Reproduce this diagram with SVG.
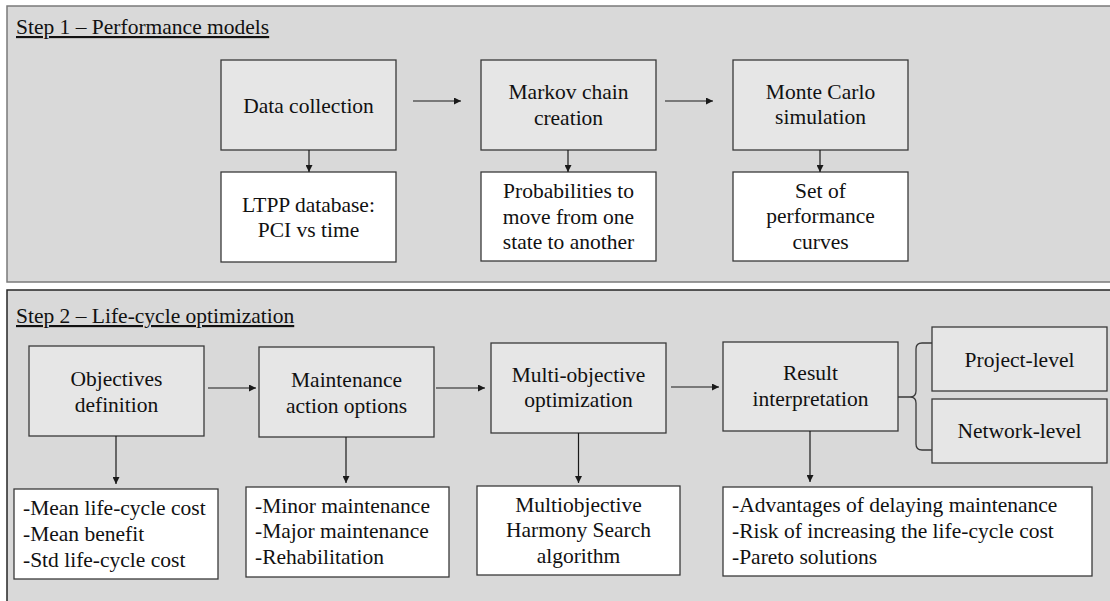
<svg xmlns="http://www.w3.org/2000/svg" width="1110" height="601" viewBox="0 0 1110 601">
<defs>
<marker id="ah" viewBox="0 0 10 10" refX="10" refY="5" markerWidth="7" markerHeight="7" markerUnits="userSpaceOnUse" orient="auto">
<path d="M0,0 L10,5 L0,10 z" fill="#1a1a1a"/>
</marker>
<style>
text{font-family:'Liberation Serif','Times New Roman',Times,'DejaVu Serif',serif;font-size:21.5px;fill:#111}
.c{text-anchor:middle}
.title{text-decoration:underline}
.node{fill:#e6e6e6;stroke:#3a3a3a;stroke-width:1.3}
.sub{fill:#ffffff;stroke:#3a3a3a;stroke-width:1.3}
.conn line{stroke:#1a1a1a;stroke-width:1.2;marker-end:url(#ah)}
.brace{fill:none;stroke:#3a3a3a;stroke-width:1.3}
</style>
</defs>
<rect x="0" y="0" width="1110" height="601" fill="#ffffff"/>
<g font-family="Liberation Serif, Times New Roman, serif">
<g id="step1">
<rect x="7" y="6" width="1110" height="276" fill="#d9d9d9" stroke="#7a7a7a" stroke-width="1.5"/>
<text x="16" y="34" class="title" font-family="Liberation Serif">Step 1 – Performance models</text>
</g>
<g id="step2">
<rect x="7" y="290" width="1110" height="330" fill="#d9d9d9" stroke="#262626" stroke-width="1.5"/>
<text x="16" y="323" class="title">Step 2 – Life-cycle optimization</text>
</g>
<g id="data-collection">
<rect class="node" x="221" y="60" width="175" height="90"/>
<text class="c" x="308.5" y="113">Data collection</text>
</g>
<g id="ltpp">
<rect class="sub" x="221" y="172" width="175" height="90"/>
<text class="c" x="308.5" y="212">LTPP database:</text>
<text class="c" x="308.5" y="237">PCI vs time</text>
</g>
<g id="markov">
<rect class="node" x="481" y="60" width="175" height="90"/>
<text class="c" x="568.5" y="99">Markov chain</text>
<text class="c" x="568.5" y="125">creation</text>
</g>
<g id="probabilities">
<rect class="sub" x="481" y="172" width="175" height="89"/>
<text class="c" x="568.5" y="198">Probabilities to</text>
<text class="c" x="568.5" y="224">move from one</text>
<text class="c" x="568.5" y="249">state to another</text>
</g>
<g id="monte-carlo">
<rect class="node" x="733" y="60" width="175" height="90"/>
<text class="c" x="820.5" y="99">Monte Carlo</text>
<text class="c" x="820.5" y="124">simulation</text>
</g>
<g id="curves">
<rect class="sub" x="733" y="172" width="175" height="89"/>
<text class="c" x="820.5" y="198">Set of</text>
<text class="c" x="820.5" y="223">performance</text>
<text class="c" x="820.5" y="249">curves</text>
</g>
<g id="objectives">
<rect class="node" x="29" y="346" width="175" height="90"/>
<text class="c" x="116.5" y="386">Objectives</text>
<text class="c" x="116.5" y="412">definition</text>
</g>
<g id="objectives-list">
<rect class="sub" x="14" y="489" width="204" height="90"/>
<text x="23" y="515">-Mean life-cycle cost</text>
<text x="23" y="541">-Mean benefit</text>
<text x="23" y="567">-Std life-cycle cost</text>
</g>
<g id="maintenance">
<rect class="node" x="259" y="347" width="175" height="90"/>
<text class="c" x="346.5" y="387">Maintenance</text>
<text class="c" x="346.5" y="413">action options</text>
</g>
<g id="maintenance-list">
<rect class="sub" x="246" y="487" width="203" height="90"/>
<text x="255" y="513">-Minor maintenance</text>
<text x="255" y="538">-Major maintenance</text>
<text x="255" y="564">-Rehabilitation</text>
</g>
<g id="multi-objective">
<rect class="node" x="491" y="343" width="175" height="90"/>
<text class="c" x="578.5" y="382">Multi-objective</text>
<text class="c" x="578.5" y="407">optimization</text>
</g>
<g id="harmony">
<rect class="sub" x="477" y="486" width="203" height="89"/>
<text class="c" x="578.5" y="512">Multiobjective</text>
<text class="c" x="578.5" y="537">Harmony Search</text>
<text class="c" x="578.5" y="563">algorithm</text>
</g>
<g id="result">
<rect class="node" x="723" y="342" width="175" height="89"/>
<text class="c" x="810.5" y="380">Result</text>
<text class="c" x="810.5" y="406">interpretation</text>
</g>
<g id="result-list">
<rect class="sub" x="723" y="487" width="369" height="89"/>
<text x="732" y="512">-Advantages of delaying maintenance</text>
<text x="732" y="538">-Risk of increasing the life-cycle cost</text>
<text x="732" y="564">-Pareto solutions</text>
</g>
<g id="project-level">
<rect class="node" x="932" y="327" width="175" height="64"/>
<text class="c" x="1019.5" y="367">Project-level</text>
</g>
<g id="network-level">
<rect class="node" x="932" y="399" width="175" height="64"/>
<text class="c" x="1019.5" y="438">Network-level</text>
</g>
</g>
<g id="connectors" class="conn">
<line x1="309" y1="150" x2="309" y2="172"/>
<line x1="413" y1="101" x2="461" y2="101"/>
<line x1="568" y1="150" x2="568" y2="172"/>
<line x1="665" y1="101" x2="713" y2="101"/>
<line x1="820" y1="150" x2="820" y2="172"/>
<line x1="208" y1="388" x2="256" y2="388"/>
<line x1="436" y1="388" x2="485" y2="388"/>
<line x1="671" y1="387" x2="719" y2="387"/>
<line x1="116" y1="436" x2="116" y2="484"/>
<line x1="346" y1="437" x2="346" y2="483"/>
<line x1="578.5" y1="433" x2="578.5" y2="483"/>
<line x1="810" y1="431" x2="810" y2="482"/>
<path class="brace" d="M898,397 L910,397 Q916,397 916,391 L916,349 Q916,343 922,343 L932,343 M910,397 Q916,397 916,403 L916,444 Q916,450 922,450 L932,450"/>
</g>
</svg>
